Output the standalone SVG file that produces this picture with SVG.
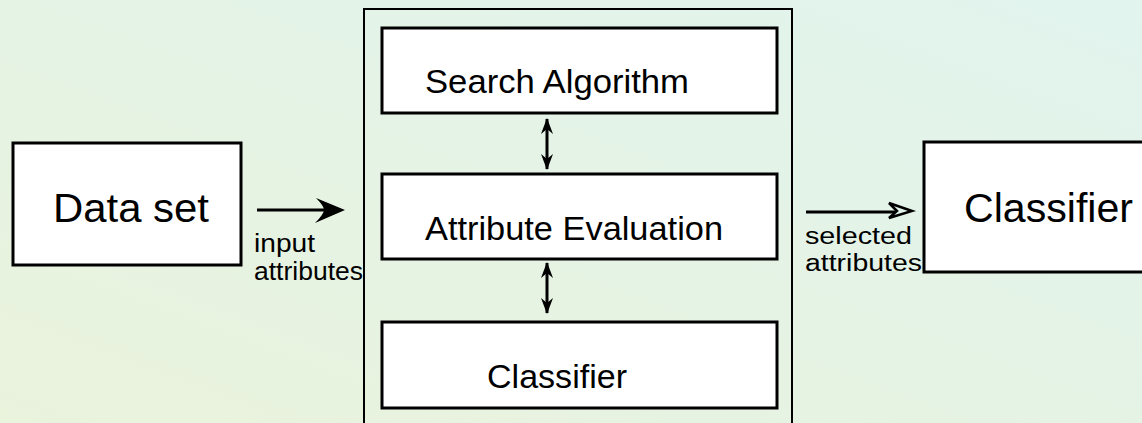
<svg xmlns="http://www.w3.org/2000/svg" width="1142" height="423" viewBox="0 0 1142 423">
<defs>
<linearGradient id="bg" x1="0" y1="1" x2="1" y2="0">
<stop offset="0" stop-color="#eaf3dc"/>
<stop offset="0.5" stop-color="#e5f3e5"/>
<stop offset="1" stop-color="#e1f4ee"/>
</linearGradient>
<marker id="vh" viewBox="0 0 16 13" refX="15" refY="6.5" markerWidth="16" markerHeight="13" markerUnits="userSpaceOnUse" orient="auto-start-reverse">
<path d="M0,0.5 L16,6.5 L0,12.5 L5,6.5 Z" fill="#000"/>
</marker>
</defs>
<style>
.box{fill:#fff;stroke:#000;stroke-width:3}
.big{font-family:"Liberation Sans",Arial,sans-serif;font-size:40px;fill:#000}
.mid{font-family:"Liberation Sans",Arial,sans-serif;font-size:33px;fill:#000}
.sm{font-family:"Liberation Sans",Arial,sans-serif;font-size:25px;fill:#000}
.sm2{font-family:"Liberation Sans",Arial,sans-serif;font-size:23px;fill:#000}
.ln{stroke:#000;stroke-width:3;fill:none}
</style>
<rect width="1142" height="423" fill="url(#bg)"/>
<g id="container">
<rect x="364" y="9" width="428" height="430" fill="none" stroke="#000" stroke-width="2"/>
</g>
<g id="dataset">
<rect class="box" x="13" y="143" width="228" height="122" stroke-width="2.5"/>
<text class="big" x="53" y="222" textLength="156" lengthAdjust="spacingAndGlyphs">Data set</text>
</g>
<g id="search">
<rect class="box" x="382" y="28" width="395" height="85"/>
<text class="mid" x="425" y="93" textLength="264" lengthAdjust="spacingAndGlyphs">Search Algorithm</text>
</g>
<g id="evaluation">
<rect class="box" x="382" y="174" width="395" height="85"/>
<text class="mid" x="425" y="240" textLength="298" lengthAdjust="spacingAndGlyphs">Attribute Evaluation</text>
</g>
<g id="classifier-inner">
<rect class="box" x="382" y="322" width="395" height="86"/>
<text class="mid" x="487" y="388" textLength="140" lengthAdjust="spacingAndGlyphs">Classifier</text>
</g>
<g id="classifier-out">
<rect class="box" x="924" y="142" width="230" height="130" stroke-width="2.5"/>
<text class="big" x="964" y="222" textLength="169" lengthAdjust="spacingAndGlyphs">Classifier</text>
</g>
<g id="connectors">
<line class="ln" x1="257" y1="210" x2="335" y2="210"/>
<path d="M345,210 L316,198 Q324,206 324,210 Q324,214 315,223 Z" fill="#000"/>
<line class="ln" x1="806" y1="212" x2="900" y2="212"/>
<path d="M912,211 L889,203 L897,211 L889,218 Z" fill="#e3f4ea" stroke="#000" stroke-width="2.5"/>
<line x1="547" y1="119" x2="547" y2="169" stroke="#000" stroke-width="3" marker-start="url(#vh)" marker-end="url(#vh)"/>
<line x1="547" y1="263" x2="547" y2="313" stroke="#000" stroke-width="3" marker-start="url(#vh)" marker-end="url(#vh)"/>
</g>
<g id="labels">
<text class="sm" x="254" y="252" textLength="61" lengthAdjust="spacingAndGlyphs">input</text>
<text class="sm" x="254" y="280" textLength="109" lengthAdjust="spacingAndGlyphs">attributes</text>
<text class="sm2" x="805" y="244" textLength="107" lengthAdjust="spacingAndGlyphs">selected</text>
<text class="sm2" x="805" y="271" textLength="117" lengthAdjust="spacingAndGlyphs">attributes</text>
</g>
</svg>
